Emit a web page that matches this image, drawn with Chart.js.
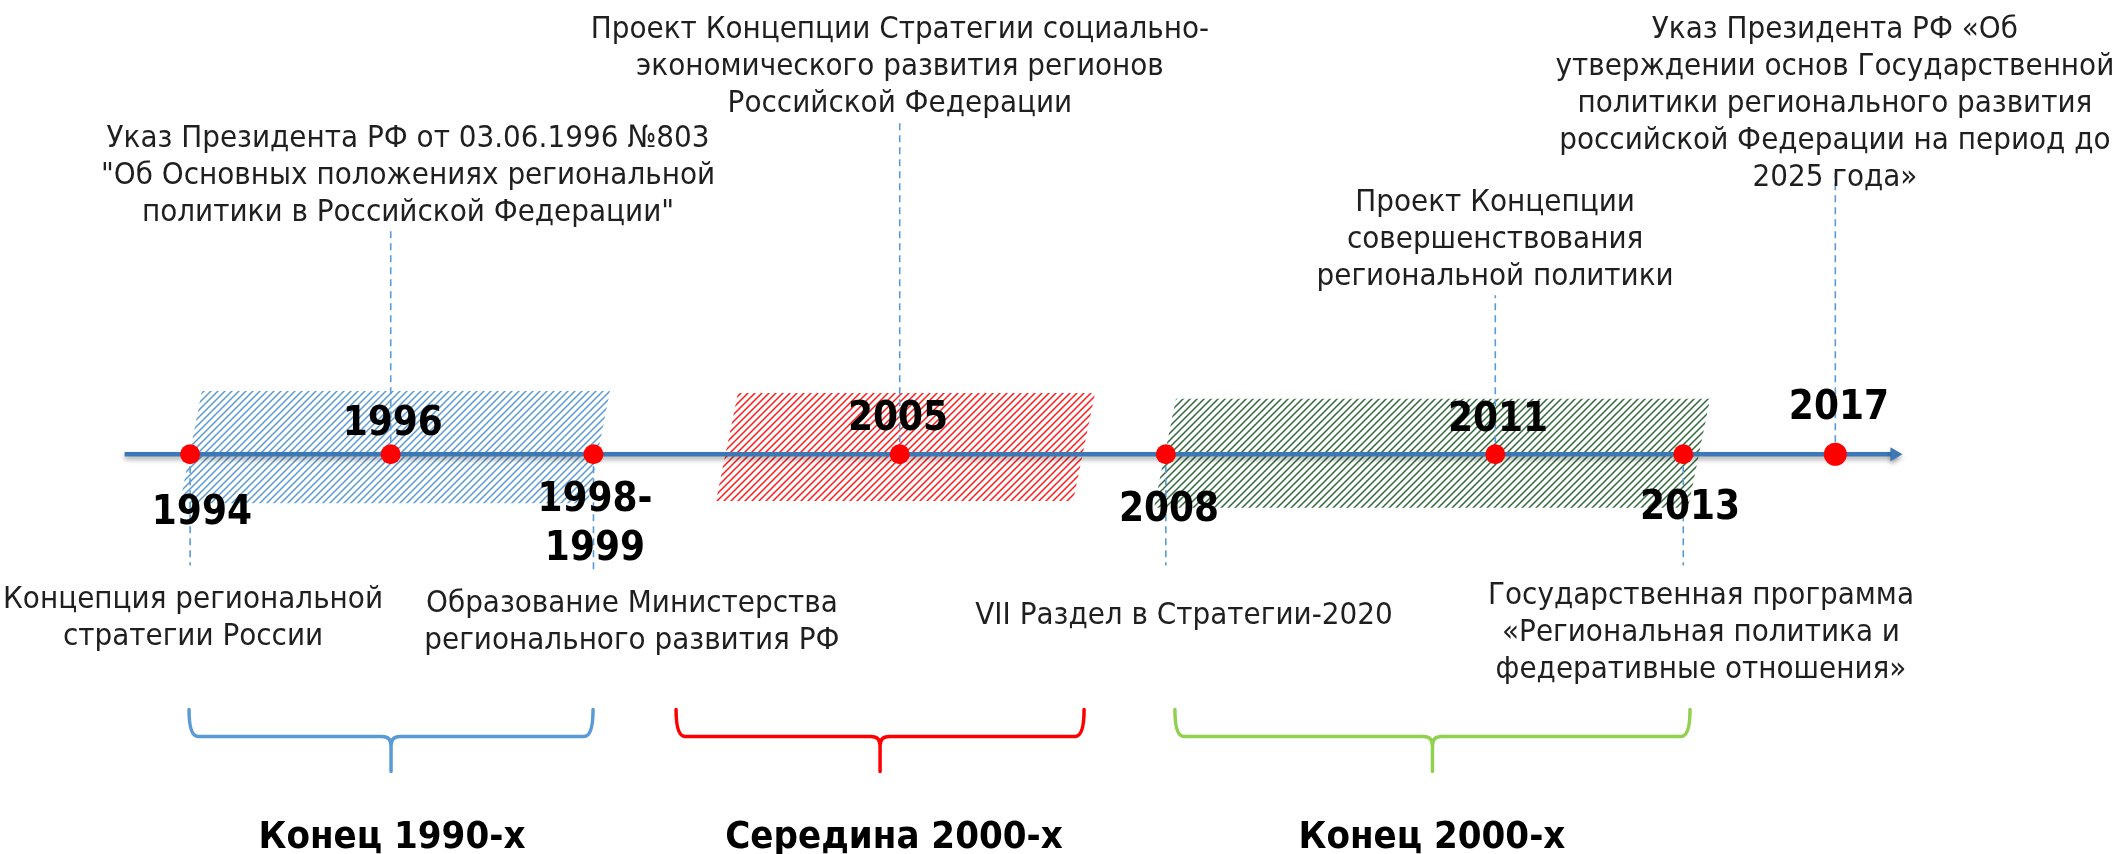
<!DOCTYPE html>
<html lang="ru">
<head>
<meta charset="utf-8">
<title>Этапы региональной политики</title>
<script src="https://cdn.jsdelivr.net/npm/chart.js@4.4.1/dist/chart.umd.min.js"></script>
<style>
  html, body { margin: 0; padding: 0; background: #fff; }
  .wrap { width: 2112px; height: 854px; position: relative; }
</style>
</head>
<body>
<div class="wrap"><canvas id="timeline"></canvas></div>
<script>
// Timeline units: x 0..1000 along the picture, y = 0 is the axis line

// years (dots on the axis)
const years = ['1994', '1996', '1998-1999', '2005', '2008', '2011', '2013', '2017'];
const yearPos = [90, 185, 281, 426, 552, 708, 797, 869];
const dotSize = [10, 10, 10, 10, 10, 10, 10, 11.5];

// year captions
const yearLabelText = [['1994'], ['1996'], ['1998-', '1999'], ['2005'], ['2008'], ['2011'], ['2013'], ['2017']];
const yearLabelX = [95.6, 186, 281.7, 425.2, 553.5, 709.3, 800.2, 870.7];
const yearLabelY = [-13, 6.5, -10.2, 7.7, -12.4, 7.4, -11.9, 10.1];

// dashed leader from each dot towards its note
const leaderEnd = [-24.5, 50, -26, 73, -24.5, 35, -24.5, 62];

// notes
const noteText = [
    ['Указ Президента РФ от 03.06.1996 №803', '"Об Основных положениях региональной', 'политики в Российской Федерации"'],
    ['Проект Концепции Стратегии социально-', 'экономического развития регионов', 'Российской Федерации'],
    ['Указ Президента РФ «Об', 'утверждении основ Государственной', 'политики регионального развития', 'российской Федерации на период до', '2025 года»'],
    ['Проект Концепции', 'совершенствования', 'региональной политики'],
    ['Концепция региональной', 'стратегии России'],
    ['Образование Министерства', 'регионального развития РФ'],
    ['VII Раздел в Стратегии-2020'],
    ['Государственная программа', '«Региональная политика и', 'федеративные отношения»']
];
const noteX = [193.2, 426.1, 868.8, 707.9, 91.4, 299.2, 560.6, 805.4];
const noteY = [69.5, 93.5, 93.5, 55.3, -32, -33, -35.6, -31.1];

// periods
const periodNames = ['Конец 1990-х', 'Середина 2000-х', 'Конец 2000-х'];
const periodFrom = [89.5, 320.1, 556.3];
const periodTo = [280.8, 513.3, 800.2];
const periodLabelX = [185.6, 423.3, 678];
const bandFrom = [90.4, 344.2, 551.6];
const bandTo = [283.6, 513.3, 804.5];
const bandTop = [13.9, 13.5, 12.2];
const bandBottom = [-10.8, -10.3, -11.8];

const axisFrom = 59;
const axisTo = 897;

// styles
const bandColors = ['#5b9bd5', '#ff1a1a', '#2f6b3a'];
const braceColors = ['#5b9bd5', '#ff0000', '#92d050'];
const slant = 5.2;
const braceLevel = -56.2;
const periodLabelY = -84.6;
const bodyFont = '31px "DejaVu Sans Condensed", "DejaVu Sans", sans-serif';
const yearFont = 'bold 40px "DejaVu Sans Condensed", "DejaVu Sans", sans-serif';
const periodFont = 'bold 38px "DejaVu Sans Condensed", "DejaVu Sans", sans-serif';
const lineGap = 37;
const yearGap = 49;

const canvas = document.getElementById('timeline');
const ctx = canvas.getContext('2d');

let hatch = color => {
    const tile = document.createElement('canvas');
    tile.width = 7;
    tile.height = 7;
    const g = tile.getContext('2d');
    g.strokeStyle = color;
    g.lineWidth = 1.5;
    g.beginPath();
    g.moveTo(0, 7); g.lineTo(7, 0);
    g.moveTo(-1, 1); g.lineTo(1, -1);
    g.moveTo(6, 8); g.lineTo(8, 6);
    g.stroke();
    return ctx.createPattern(tile, 'repeat');
}

const datasets = [];

// red dots
datasets.push({
    label: 'years',
    data: yearPos.map(x => ({x: x, y: 0})),
    showLine: false,
    pointRadius: dotSize,
    pointBackgroundColor: '#ff0000',
    pointBorderWidth: 0,
    order: 0
});

// axis with arrow
datasets.push({
    label: 'axis',
    data: [{x: axisFrom, y: 0}, {x: axisTo, y: 0}],
    borderColor: '#3d78b6',
    borderWidth: 4.5,
    pointRadius: [0, 8],
    pointStyle: 'triangle',
    rotation: 90,
    pointBackgroundColor: '#3d78b6',
    pointBorderWidth: 0,
    order: 1
});

// dashed leaders
const leaderData = [];
yearPos.forEach((x, i) => {
    leaderData.push({x: x, y: 0}, {x: x, y: leaderEnd[i]}, {x: x, y: null});
});
datasets.push({
    label: 'leaders',
    data: leaderData,
    borderColor: '#5b9bd5',
    borderWidth: 1.6,
    borderDash: [7, 5],
    pointRadius: 0,
    spanGaps: false,
    order: 2
});

// hatched period bands
periodNames.forEach((name, i) => {
    datasets.push({
        label: name,
        data: [
            {x: bandFrom[i] - slant, y: bandBottom[i]},
            {x: bandFrom[i] + slant, y: bandTop[i]},
            {x: bandTo[i] + slant, y: bandTop[i]},
            {x: bandTo[i] - slant, y: bandBottom[i]}
        ],
        fill: 'shape',
        backgroundColor: hatch(bandColors[i]),
        borderColor: 'rgba(0,0,0,0)',
        borderWidth: 0,
        pointRadius: 0,
        order: 5
    });
});

// shadow under the axis line
const axisShadow = {
    id: 'axisShadow',
    beforeDatasetDraw(chart, args) {
        if (args.index !== 1) return;
        const c = chart.ctx;
        c.save();
        c.shadowColor = 'rgba(0,0,0,0.35)';
        c.shadowBlur = 5;
        c.shadowOffsetY = 3;
    },
    afterDatasetDraw(chart, args) {
        if (args.index === 1) chart.ctx.restore();
    }
};

let drawLines = (c, lines, x, y, gap) => {
    lines.forEach((line, k) => c.fillText(line, x, y + k * gap));
}

let drawBrace = (c, x1, x2, yTop, color) => {
    const xm = (x1 + x2) / 2, mid = yTop + 27, tip = yTop + 62, r = 9;
    c.strokeStyle = color;
    c.lineWidth = 3.5;
    c.lineCap = 'round';
    c.lineJoin = 'round';
    c.beginPath();
    c.moveTo(x1, yTop);
    c.quadraticCurveTo(x1, mid, x1 + r, mid);
    c.lineTo(xm - r, mid);
    c.quadraticCurveTo(xm, mid, xm, mid + r);
    c.lineTo(xm, tip);
    c.moveTo(x2, yTop);
    c.quadraticCurveTo(x2, mid, x2 - r, mid);
    c.lineTo(xm + r, mid);
    c.quadraticCurveTo(xm, mid, xm, mid + r);
    c.stroke();
}

const annotations = {
    id: 'annotations',
    afterDatasetsDraw(chart) {
        const c = chart.ctx;
        const xs = chart.scales.x, ys = chart.scales.y;
        c.save();
        c.textAlign = 'center';
        c.textBaseline = 'middle';

        // braces and period names
        periodNames.forEach((name, i) => {
            drawBrace(c, xs.getPixelForValue(periodFrom[i]), xs.getPixelForValue(periodTo[i]),
                ys.getPixelForValue(braceLevel), braceColors[i]);
        });
        c.font = periodFont;
        c.fillStyle = '#000';
        periodNames.forEach((name, i) => {
            c.fillText(name, xs.getPixelForValue(periodLabelX[i]), ys.getPixelForValue(periodLabelY));
        });

        // year captions
        c.font = yearFont;
        yearLabelText.forEach((lines, i) => {
            drawLines(c, lines, xs.getPixelForValue(yearLabelX[i]), ys.getPixelForValue(yearLabelY[i]), yearGap);
        });

        // notes
        c.font = bodyFont;
        c.fillStyle = '#1f1f1f';
        noteText.forEach((lines, i) => {
            drawLines(c, lines, xs.getPixelForValue(noteX[i]), ys.getPixelForValue(noteY[i]), lineGap);
        });
        c.restore();
    }
};

new Chart(ctx, {
    type: 'line',
    data: { datasets: datasets },
    options: {
        responsive: true,
        maintainAspectRatio: false,
        animation: false,
        events: [],
        layout: { padding: 0, autoPadding: false },
        scales: {
            x: { type: 'linear', min: 0, max: 1000, display: false },
            y: { type: 'linear', min: -88, max: 100, display: false }
        },
        plugins: {
            legend: { display: false },
            tooltip: { enabled: false }
        }
    },
    plugins: [axisShadow, annotations]
});
</script>
</body>
</html>
